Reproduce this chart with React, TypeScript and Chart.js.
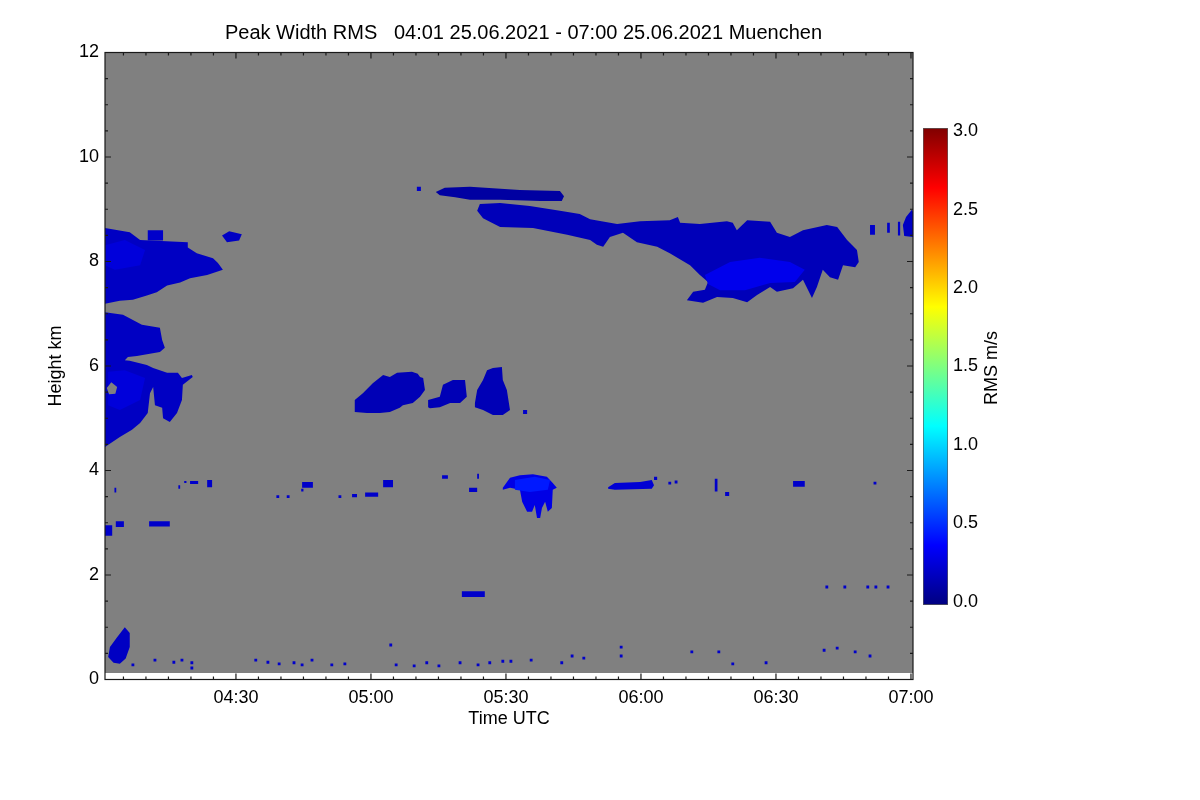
import { useEffect, useRef } from "react";
import { Chart, registerables } from "chart.js";

Chart.register(...registerables);

// time axis is minutes after 00:00 UTC
const timeMin = 240.9;
const timeMax = 420.45;
const xTickMinutes = [270, 300, 330, 360, 390, 420];
const xTickLabels = ["04:30", "05:00", "05:30", "06:00", "06:30", "07:00"];
const heightMin = 0;
const heightMax = 12;
const lowestGateKm = 0.125;

// colour bar
const rmsMin = -0.02;
const rmsMax = 3.02;
const rmsTicks = [0, 0.5, 1, 1.5, 2, 2.5, 3];

// cloud outlines, [minute, km]
const cloudUpperLeft = [
  [240.9, 8.64], [246.4, 8.56], [248.7, 8.41], [259.3, 8.37], [259.3, 8.27], [261.3, 8.16],
  [264.9, 8.06], [266.0, 7.97], [267.1, 7.84], [263.6, 7.74], [259.8, 7.68], [257.6, 7.6],
  [254.7, 7.54], [252.4, 7.41], [250.2, 7.35], [247.1, 7.27], [244.2, 7.25], [240.9, 7.19],
];
const cloudUpperLeftTail = [[266.9, 8.5], [268.5, 8.58], [271.3, 8.52], [270.7, 8.4], [268.0, 8.37]];
const cloudMidLeft = [
  [240.9, 7.03], [244.9, 6.98], [249.1, 6.79], [253.1, 6.73], [253.6, 6.5], [254.2, 6.35],
  [253.1, 6.27], [248.0, 6.19], [246.0, 6.17], [245.3, 6.11], [246.4, 6.1], [250.2, 6.02],
  [251.6, 5.96], [254.7, 5.87], [257.1, 5.87], [258.0, 5.77], [260.2, 5.83], [260.4, 5.79],
  [258.2, 5.64], [258.0, 5.35], [256.9, 5.1], [255.3, 4.93], [253.8, 5.0], [253.6, 5.2],
  [252.0, 5.25], [251.6, 5.6], [250.9, 5.48], [250.4, 5.1], [248.7, 4.91], [246.9, 4.78],
  [244.2, 4.64], [240.9, 4.45],
];
const cloudMidLeftGap = [[241.3, 5.58], [242.3, 5.69], [243.6, 5.6], [243.2, 5.47], [241.8, 5.46]];
const cirrusTop = [
  [314.4, 9.33], [316.4, 9.41], [322.0, 9.43], [333.1, 9.37], [342.0, 9.35], [342.9, 9.25],
  [342.4, 9.16], [337.6, 9.16], [328.7, 9.18], [322.0, 9.18], [318.7, 9.23], [315.3, 9.27],
];
const cirrusMain = [
  [323.6, 8.97], [324.2, 9.1], [328.7, 9.12], [335.3, 9.06], [342.0, 8.97], [346.4, 8.91],
  [348.7, 8.81], [354.7, 8.72], [359.8, 8.77], [366.4, 8.79], [368.2, 8.85], [368.7, 8.74],
  [373.1, 8.72], [379.1, 8.77], [380.4, 8.74], [381.3, 8.6], [383.6, 8.79], [388.7, 8.76],
  [390.2, 8.55], [393.1, 8.47], [396.0, 8.6], [401.3, 8.7], [403.6, 8.66], [405.8, 8.41],
  [408.0, 8.22], [408.4, 7.99], [407.6, 7.89], [404.9, 7.93], [403.8, 7.65], [402.0, 7.7],
  [400.4, 7.84], [399.1, 7.51], [398.0, 7.3], [396.0, 7.65], [393.8, 7.49], [390.2, 7.42],
  [388.7, 7.51], [385.8, 7.36], [383.6, 7.22], [380.4, 7.3], [376.9, 7.32], [373.8, 7.21],
  [370.2, 7.26], [371.6, 7.42], [374.2, 7.46], [374.9, 7.61], [373.1, 7.74], [370.9, 7.93],
  [366.4, 8.16], [363.6, 8.28], [359.1, 8.37], [356.0, 8.55], [353.1, 8.47], [351.6, 8.28],
  [350.2, 8.32], [348.7, 8.41], [343.6, 8.51], [336.0, 8.64], [328.7, 8.66], [324.9, 8.83],
];
const cirrusRightEdge = [[418.2, 8.7], [418.9, 8.85], [420.2, 8.99], [420.45, 8.95], [420.45, 8.47], [418.5, 8.49]];
const cloudMid1 = [
  [296.4, 5.12], [296.4, 5.35], [298.2, 5.48], [300.4, 5.67], [302.7, 5.83], [304.2, 5.79],
  [305.8, 5.87], [309.1, 5.89], [310.4, 5.85], [310.9, 5.79], [311.6, 5.77], [312.0, 5.54],
  [310.9, 5.41], [309.3, 5.29], [307.1, 5.25], [306.4, 5.2], [304.2, 5.12], [302.0, 5.1],
  [299.1, 5.1],
];
const cloudMid2 = [
  [312.7, 5.35], [315.3, 5.41], [316.0, 5.64], [318.2, 5.73], [320.9, 5.73], [321.3, 5.41],
  [319.8, 5.29], [317.6, 5.29], [315.3, 5.21], [313.1, 5.19], [312.7, 5.21],
];
const cloudMid3 = [
  [323.1, 5.29], [323.6, 5.54], [324.9, 5.73], [325.8, 5.92], [327.1, 5.96], [329.1, 5.98],
  [329.3, 5.73], [330.2, 5.54], [330.9, 5.16], [329.3, 5.06], [327.1, 5.06], [324.9, 5.16],
  [323.1, 5.21],
];
const cumulus530 = [
  [329.3, 3.67], [330.9, 3.86], [333.1, 3.91], [336.0, 3.93], [339.1, 3.88], [340.4, 3.76],
  [341.3, 3.67], [340.4, 3.63], [340.2, 3.28], [339.3, 3.21], [338.7, 3.4], [338.0, 3.28],
  [337.6, 3.09], [336.9, 3.09], [336.4, 3.34], [335.8, 3.21], [334.7, 3.21], [333.6, 3.4],
  [333.1, 3.63], [330.9, 3.67], [329.3, 3.63],
];
const layer600 = [[352.7, 3.68], [354.2, 3.76], [359.8, 3.78], [362.4, 3.82], [362.9, 3.72], [362.4, 3.65], [354.2, 3.63], [352.7, 3.65]];
const lowPlume = [[245.3, 1.0], [246.4, 0.89], [246.4, 0.62], [245.5, 0.4], [244.2, 0.3], [242.8, 0.32], [241.6, 0.43], [242.0, 0.62], [243.5, 0.8]];

// brighter cores
const cirrusCore = [[374.2, 7.74], [379.8, 7.99], [386.4, 8.07], [393.1, 7.99], [396.4, 7.84], [394.2, 7.61], [388.7, 7.59], [383.1, 7.45], [377.6, 7.45], [374.9, 7.57]];
const upperLeftCore = [[240.9, 8.31], [245.3, 8.41], [249.8, 8.22], [248.7, 7.93], [243.1, 7.84], [240.9, 7.93]];
const midLeftCore = [[241.6, 5.89], [245.3, 5.92], [249.8, 5.77], [248.7, 5.35], [244.2, 5.16], [241.6, 5.25]];
const cumulusCore = [[332.0, 3.82], [336.4, 3.88], [339.8, 3.82], [339.3, 3.63], [335.3, 3.59], [332.0, 3.63]];

// small echoes: [start minute, end minute, bottom km, top km]
const smallEchoes = [
  [240.9, 242.5, 2.75, 2.95], [243.3, 245.1, 2.92, 3.03], [250.7, 255.3, 2.93, 3.03],
  [243.0, 243.4, 3.58, 3.67], [257.2, 257.6, 3.65, 3.72], [258.5, 259.0, 3.76, 3.8],
  [259.8, 261.6, 3.74, 3.8], [263.6, 264.7, 3.68, 3.82], [284.7, 287.1, 3.67, 3.78],
  [284.5, 285.0, 3.6, 3.65], [295.8, 296.9, 3.49, 3.55], [298.7, 301.6, 3.5, 3.58],
  [302.7, 304.9, 3.68, 3.82], [315.8, 317.1, 3.84, 3.91], [323.6, 324.0, 3.84, 3.94],
  [321.8, 323.6, 3.59, 3.67], [320.2, 325.3, 1.58, 1.69], [362.9, 363.6, 3.82, 3.88],
  [376.4, 377.0, 3.6, 3.84], [378.7, 379.6, 3.51, 3.59], [393.8, 396.4, 3.69, 3.8],
  [417.1, 417.6, 8.5, 8.76], [410.9, 412.0, 8.51, 8.7], [414.7, 415.3, 8.55, 8.74],
  [333.8, 334.7, 5.08, 5.16], [310.2, 311.1, 9.35, 9.43], [250.4, 253.8, 8.4, 8.6],
];

// single-gate speckles, [minute, km]
const speckles = [
  [247.1, 0.28], [252.0, 0.37], [256.2, 0.33], [258.0, 0.37], [260.2, 0.32], [260.2, 0.22],
  [274.4, 0.37], [277.1, 0.33], [279.6, 0.3], [282.9, 0.32], [284.7, 0.28], [286.9, 0.37],
  [291.3, 0.28], [294.2, 0.3], [304.4, 0.66], [305.6, 0.28], [309.6, 0.26], [312.4, 0.32],
  [315.1, 0.26], [319.8, 0.32], [323.8, 0.28], [326.4, 0.32], [329.3, 0.35], [331.1, 0.35],
  [335.6, 0.37], [342.4, 0.32], [344.7, 0.45], [347.3, 0.41], [355.6, 0.62], [355.6, 0.45],
  [371.3, 0.53], [377.3, 0.53], [380.4, 0.3], [387.8, 0.32], [400.7, 0.56], [403.6, 0.6],
  [407.6, 0.53], [410.9, 0.45], [401.3, 1.77], [405.3, 1.77], [410.4, 1.77], [412.2, 1.77],
  [414.9, 1.77], [279.3, 3.5], [281.6, 3.5], [293.1, 3.5], [366.4, 3.76], [367.8, 3.78],
  [412.0, 3.76],
];

const FONT = "'Liberation Sans', Arial, Helvetica, sans-serif";

// IDL-like jet table, v in 0..1
function jet(v: number) {
  const c = (n: number) => Math.round(255 * Math.max(0, Math.min(1, n)));
  const r = c(Math.min(4 * v - 1.5, -4 * v + 4.5));
  const g = c(Math.min(4 * v - 0.5, -4 * v + 3.5));
  const b = c(Math.min(4 * v + 0.5, -4 * v + 2.5));
  return `rgb(${r}, ${g}, ${b})`;
}
const rmsColor = (rms: number) => jet(rms / 3);

const toPoints = (pts: number[][]) => pts.map(([x, y]) => ({ x, y }));

function polygon(pts: number[][], color: string, order: number) {
  return {
    type: "line",
    data: toPoints(pts),
    fill: "shape",
    backgroundColor: color,
    borderWidth: 0,
    pointRadius: 0,
    order,
  };
}

const framePlugin = {
  id: "frame",
  afterDatasetsDraw(chart: any) {
    const { ctx, chartArea: a, scales } = chart;
    const x = scales.x;
    const y = scales.y;
    ctx.save();
    ctx.strokeStyle = "#1a1a1a";
    ctx.lineWidth = 1.2;
    ctx.strokeRect(a.left, a.top, a.right - a.left, a.bottom - a.top);
    ctx.beginPath();
    for (let m = 245; m <= timeMax; m += 5) {
      const px = x.getPixelForValue(m);
      const len = m % 30 === 0 ? 6 : 3;
      ctx.moveTo(px, a.bottom);
      ctx.lineTo(px, a.bottom - len);
      ctx.moveTo(px, a.top);
      ctx.lineTo(px, a.top + len);
    }
    for (let h = heightMin; h <= heightMax; h += 0.5) {
      const py = y.getPixelForValue(h);
      const len = h % 2 === 0 ? 6 : 3;
      ctx.moveTo(a.left, py);
      ctx.lineTo(a.left + len, py);
      ctx.moveTo(a.right, py);
      ctx.lineTo(a.right - len, py);
    }
    ctx.stroke();
    ctx.restore();
  },
};

const rmsLabelPlugin = {
  id: "rmsLabel",
  afterDraw(chart: any) {
    const { ctx } = chart;
    ctx.save();
    ctx.translate(92, 368);
    ctx.rotate(-Math.PI / 2);
    ctx.font = `18px ${FONT}`;
    ctx.fillStyle = "#000";
    ctx.textAlign = "center";
    ctx.textBaseline = "middle";
    ctx.fillText("RMS m/s", 0, 0);
    ctx.restore();
  },
};

export default function App() {
  const mainRef = useRef<HTMLCanvasElement>(null);
  const barRef = useRef<HTMLCanvasElement>(null);

  useEffect(() => {
    const datasets: any[] = [
      {
        type: "line",
        data: toPoints([[timeMin, lowestGateKm], [timeMax, lowestGateKm]]),
        fill: "end",
        backgroundColor: "#808080",
        borderWidth: 0,
        pointRadius: 0,
        order: 100,
      },
      polygon(cloudUpperLeft, rmsColor(0.2), 10),
      polygon(cloudUpperLeftTail, rmsColor(0.2), 10),
      polygon(cloudMidLeft, rmsColor(0.2), 10),
      polygon(cirrusTop, rmsColor(0.1), 10),
      polygon(cirrusMain, rmsColor(0.17), 10),
      polygon(cirrusRightEdge, rmsColor(0.2), 10),
      polygon(cloudMid1, rmsColor(0.16), 10),
      polygon(cloudMid2, rmsColor(0.16), 10),
      polygon(cloudMid3, rmsColor(0.16), 10),
      polygon(cumulus530, rmsColor(0.3), 10),
      polygon(layer600, rmsColor(0.25), 10),
      polygon(lowPlume, rmsColor(0.2), 10),
      polygon(cirrusCore, rmsColor(0.32), 6),
      polygon(upperLeftCore, rmsColor(0.27), 6),
      polygon(midLeftCore, rmsColor(0.27), 6),
      polygon(cumulusCore, rmsColor(0.45), 6),
      polygon(cloudMidLeftGap, "#808080", 3),
      ...smallEchoes.map(([t0, t1, h0, h1]) =>
        polygon([[t0, h0], [t1, h0], [t1, h1], [t0, h1]], rmsColor(0.22), 8)
      ),
      {
        type: "scatter",
        data: toPoints(speckles),
        pointStyle: "rect",
        pointRadius: 2,
        backgroundColor: rmsColor(0.22),
        borderWidth: 0,
        order: 2,
      },
    ];

    const main = new Chart(mainRef.current as HTMLCanvasElement, {
      type: "line",
      data: { datasets },
      options: {
        animation: false,
        responsive: false,
        events: [],
        layout: { padding: 0 },
        plugins: {
          legend: { display: false },
          tooltip: { enabled: false },
          title: {
            display: true,
            text: "Peak Width RMS   04:01 25.06.2021 - 07:00 25.06.2021 Muenchen",
            color: "#000",
            font: { family: FONT, size: 20, weight: "normal" },
            padding: { top: 21, bottom: 7.5 },
          },
        },
        scales: {
          x: {
            type: "linear",
            min: timeMin,
            max: timeMax,
            grid: { display: false, drawTicks: false },
            border: { display: false },
            afterBuildTicks: (s: any) => {
              s.ticks = xTickMinutes.map((value) => ({ value }));
            },
            afterFit: (s: any) => {
              s.height = 120.5;
            },
            ticks: {
              callback: (_v: any, i: number) => xTickLabels[i],
              color: "#000",
              font: { family: FONT, size: 18 },
              padding: 8,
              maxRotation: 0,
              autoSkip: false,
            },
            title: {
              display: true,
              text: "Time UTC",
              color: "#000",
              font: { family: FONT, size: 18 },
              padding: { top: 0, bottom: 70.5 },
            },
          },
          y: {
            type: "linear",
            min: heightMin,
            max: heightMax,
            grid: { display: false, drawTicks: false },
            border: { display: false },
            afterFit: (s: any) => {
              s.width = 105;
            },
            ticks: {
              stepSize: 2,
              color: "#000",
              font: { family: FONT, size: 18 },
              padding: 6,
            },
            title: {
              display: true,
              text: "Height km",
              color: "#000",
              font: { family: FONT, size: 18 },
              padding: { top: 45, bottom: 0 },
            },
          },
          // empty right-hand strip that leaves room for the colour bar
          yRight: {
            type: "linear",
            position: "right",
            min: heightMin,
            max: heightMax,
            grid: { display: false, drawTicks: false },
            border: { display: false },
            ticks: { display: false },
            afterFit: (s: any) => {
              s.width = 134;
            },
          },
        },
      } as any,
      plugins: [framePlugin],
    } as any);

    const bar = new Chart(barRef.current as HTMLCanvasElement, {
      type: "bar",
      data: {
        labels: ["RMS"],
        datasets: [
          {
            data: [[rmsMin, rmsMax]],
            backgroundColor: (c: any) => {
              const area = c.chart.chartArea;
              if (!area) return rmsColor(1.5);
              const g = c.chart.ctx.createLinearGradient(0, area.bottom, 0, area.top);
              [0, 0.125, 0.375, 0.625, 0.875, 1].forEach((v) => g.addColorStop(v, jet(v)));
              return g;
            },
            borderColor: "#5a5a5a",
            borderWidth: 1,
            borderSkipped: false,
            barPercentage: 1,
            categoryPercentage: 1,
          },
        ],
      },
      options: {
        animation: false,
        responsive: false,
        events: [],
        layout: { padding: { left: 23, right: 0, top: 128, bottom: 195 } },
        plugins: { legend: { display: false }, tooltip: { enabled: false } },
        scales: {
          x: { display: false },
          y: {
            position: "right",
            min: rmsMin,
            max: rmsMax,
            grid: { display: false, drawTicks: false },
            border: { display: false },
            afterBuildTicks: (s: any) => {
              s.ticks = rmsTicks.map((value) => ({ value }));
            },
            afterFit: (s: any) => {
              s.width = 152;
            },
            ticks: {
              callback: (v: any) => Number(v).toFixed(1),
              color: "#000",
              font: { family: FONT, size: 18 },
              padding: 5,
            },
          },
        },
      } as any,
      plugins: [rmsLabelPlugin],
    } as any);

    return () => {
      main.destroy();
      bar.destroy();
    };
  }, []);

  return (
    <div style={{ position: "absolute", left: 0, top: 0, width: 1200, height: 800, background: "#fff" }}>
      <canvas ref={mainRef} width={1047} height={800} style={{ position: "absolute", left: 0, top: 0 }} />
      <canvas ref={barRef} width={200} height={800} style={{ position: "absolute", left: 900, top: 0 }} />
    </div>
  );
}
